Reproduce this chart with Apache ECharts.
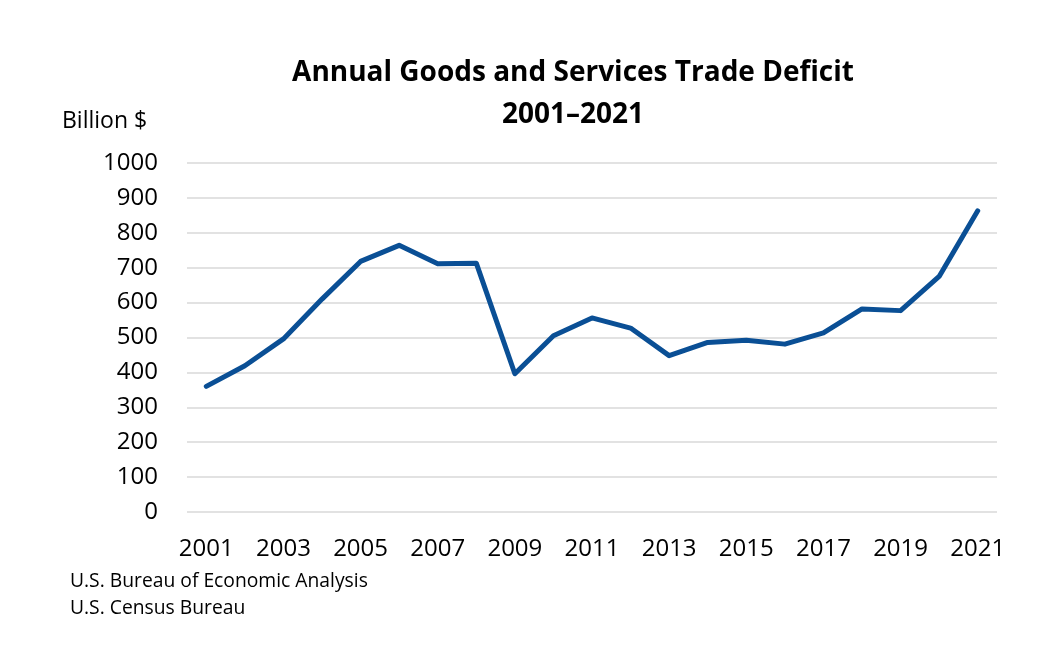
<!DOCTYPE html>
<html>
<head>
<meta charset="utf-8">
<script src="https://cdn.jsdelivr.net/npm/echarts@6/dist/echarts.min.js"></script>
<style>html,body{margin:0;padding:0;background:#fff;}#c{width:1064px;height:665px;}</style>
</head>
<body>
<div id="c"></div>
<script>
const years = ['2001','2002','2003','2004','2005','2006','2007','2008','2009','2010','2011','2012','2013','2014','2015','2016','2017','2018','2019','2020','2021'];
const deficit = [360, 419, 496, 610, 718, 764, 711, 713, 396, 505, 556, 527, 448, 486, 492, 481, 513, 582, 577, 675, 863];
const titleLines = ['Annual Goods and Services Trade Deficit', '2001\u20132021'];
const yUnit = 'Billion $';
const sources = ['U.S. Bureau of Economic Analysis', 'U.S. Census Bureau'];

const FONT = '"Open Sans", sans-serif';
const chart = echarts.init(document.getElementById('c'));
chart.setOption({
  backgroundColor: '#fff',
  animation: false,
  title: [
    { text: titleLines.join('\n'), left: 568, top: 47, textAlign: 'center',
      textStyle: { fontFamily: FONT, fontWeight: 'bold', fontSize: 28, color: '#000', lineHeight: 42 } },
    { text: yUnit, left: 57, top: 104,
      textStyle: { fontFamily: FONT, fontWeight: 'normal', fontSize: 23, color: '#000', lineHeight: 24 } },
    { text: sources.join('\n'), left: 65, top: 563,
      textStyle: { fontFamily: FONT, fontWeight: 'normal', fontSize: 19.3, color: '#000', lineHeight: 27 } }
  ],
  grid: { left: 187, right: 67, top: 163, bottom: 153, containLabel: false },
  xAxis: {
    type: 'category', data: years, boundaryGap: true,
    axisLine: { show: false }, axisTick: { show: false },
    axisLabel: { interval: 1, fontFamily: FONT, fontSize: 24, color: '#000', margin: 25 }
  },
  yAxis: {
    type: 'value', min: 0, max: 1000, interval: 100,
    axisLine: { show: false }, axisTick: { show: false },
    axisLabel: { fontFamily: FONT, fontSize: 24, color: '#000', margin: 29, formatter: v => String(v) },
    splitLine: { lineStyle: { color: '#d9d9d9', width: 1.5 } }
  },
  series: [{
    type: 'line', data: deficit, showSymbol: false, smooth: false,
    lineStyle: { color: '#0a4f95', width: 5, cap: 'round', join: 'round' },
    itemStyle: { color: '#0a4f95' }
  }]
});
</script>
</body>
</html>
